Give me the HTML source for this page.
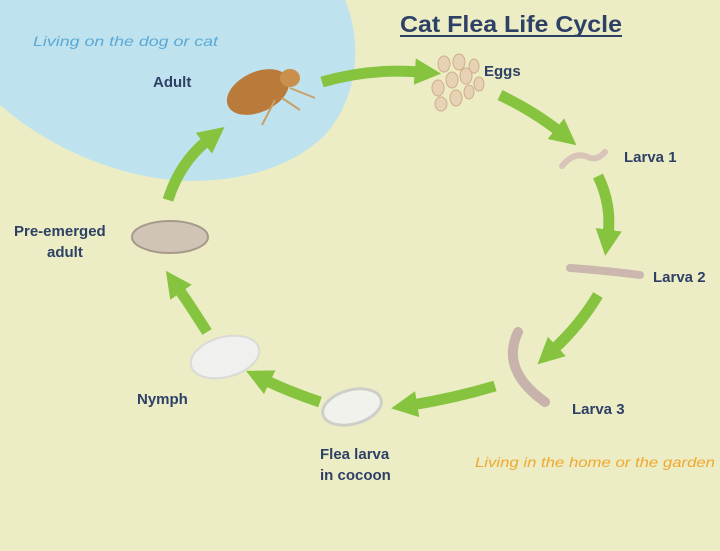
<!DOCTYPE html>
<html><head><style>
html,body{margin:0;padding:0;background:#ecedc4;}
svg{display:block}
.l{font-family:"Liberation Sans",sans-serif;font-weight:bold;font-size:15px;fill:#2e4066}
</style></head><body>
<svg width="720" height="551" viewBox="0 0 720 551">
<defs>
<marker id="h" viewBox="0 0 10 10" refX="2" refY="5" markerWidth="2.4" markerHeight="2.6" orient="auto" markerUnits="strokeWidth">
<path d="M0,0 L10,5 L0,10 Z" fill="#86c440"/></marker>
</defs>
<rect width="720" height="551" fill="#ecedc4"/>
<path d="M0,0 L345,0 C362,40 360,95 325,135 C290,170 230,185 170,180 C100,172 40,140 0,105 Z" fill="#bfe3ee"/>
<text x="33" y="46" font-family="Liberation Sans,sans-serif" font-style="italic" font-size="14" fill="#5aa9d6" textLength="185" lengthAdjust="spacingAndGlyphs">Living on the dog or cat</text>
<text x="400" y="32" font-family="Liberation Sans,sans-serif" font-weight="bold" font-size="23" fill="#2e4066" textLength="222" lengthAdjust="spacingAndGlyphs">Cat Flea Life Cycle</text>
<rect x="400" y="35" width="222" height="2" fill="#2e4066"/>
<g fill="none" stroke="#86c440" stroke-width="11" marker-end="url(#h)">
<path d="M322,82 Q370,68 420,72"/>
<path d="M500,95 Q535,112 560,132"/>
<path d="M598,176 Q612,205 608,235"/>
<path d="M598,295 Q580,325 553,350"/>
<path d="M495,386 Q455,398 412,405"/>
<path d="M320,402 Q290,392 265,380"/>
<path d="M207,332 Q190,305 178,288"/>
<path d="M168,200 Q180,162 208,140"/>
</g>
<text x="153" y="87" class="l">Adult</text>
<text x="484" y="76" class="l">Eggs</text>
<text x="624" y="162" class="l">Larva 1</text>
<text x="653" y="282" class="l">Larva 2</text>
<text x="572" y="414" class="l">Larva 3</text>
<text x="320" y="459" class="l">Flea larva</text>
<text x="320" y="480" class="l">in cocoon</text>
<text x="137" y="404" class="l">Nymph</text>
<text x="14" y="236" class="l">Pre-emerged</text>
<text x="47" y="257" class="l">adult</text>
<text x="475" y="467" font-family="Liberation Sans,sans-serif" font-style="italic" font-size="14" fill="#f0a830" textLength="240" lengthAdjust="spacingAndGlyphs">Living in the home or the garden</text>
<!-- flea -->
<ellipse cx="258" cy="92" rx="33" ry="20" transform="rotate(-25 258 92)" fill="#b97a3a"/>
<ellipse cx="290" cy="78" rx="10" ry="9" fill="#c9904d"/>
<path d="M275,100 L262,125 M282,98 L300,110 M290,88 L315,98" stroke="#c9a06a" stroke-width="2" fill="none"/>
<!-- eggs -->
<g fill="#e8d2b6" stroke="#cfae8a" transform="translate(-6,0)">
<ellipse cx="450" cy="64" rx="6" ry="8"/><ellipse cx="465" cy="62" rx="6" ry="8"/><ellipse cx="480" cy="66" rx="5" ry="7"/>
<ellipse cx="472" cy="76" rx="6" ry="8"/><ellipse cx="458" cy="80" rx="6" ry="8"/><ellipse cx="444" cy="88" rx="6" ry="8"/>
<ellipse cx="485" cy="84" rx="5" ry="7"/><ellipse cx="462" cy="98" rx="6" ry="8"/><ellipse cx="447" cy="104" rx="6" ry="7"/><ellipse cx="475" cy="92" rx="5" ry="7"/>
</g>
<path d="M562,166 Q575,150 590,158 Q598,160 605,152" stroke="#d8c4b8" stroke-width="6" fill="none" stroke-linecap="round"/>
<path d="M570,268 Q600,270 640,275" stroke="#cbb7ad" stroke-width="8" fill="none" stroke-linecap="round"/>
<path d="M518,332 Q500,370 545,402" stroke="#c8b2ac" stroke-width="10" fill="none" stroke-linecap="round"/>
<ellipse cx="352" cy="407" rx="30" ry="17" transform="rotate(-15 352 407)" fill="#f2f2ec" stroke="#cfcfca" stroke-width="3"/>
<ellipse cx="225" cy="357" rx="35" ry="20" transform="rotate(-15 225 357)" fill="#f0f0ee" stroke="#dadad6" stroke-width="2"/>
<ellipse cx="170" cy="237" rx="38" ry="16" fill="#cfc4b6" stroke="#a8998a" stroke-width="2"/>
</svg>
</body></html>
